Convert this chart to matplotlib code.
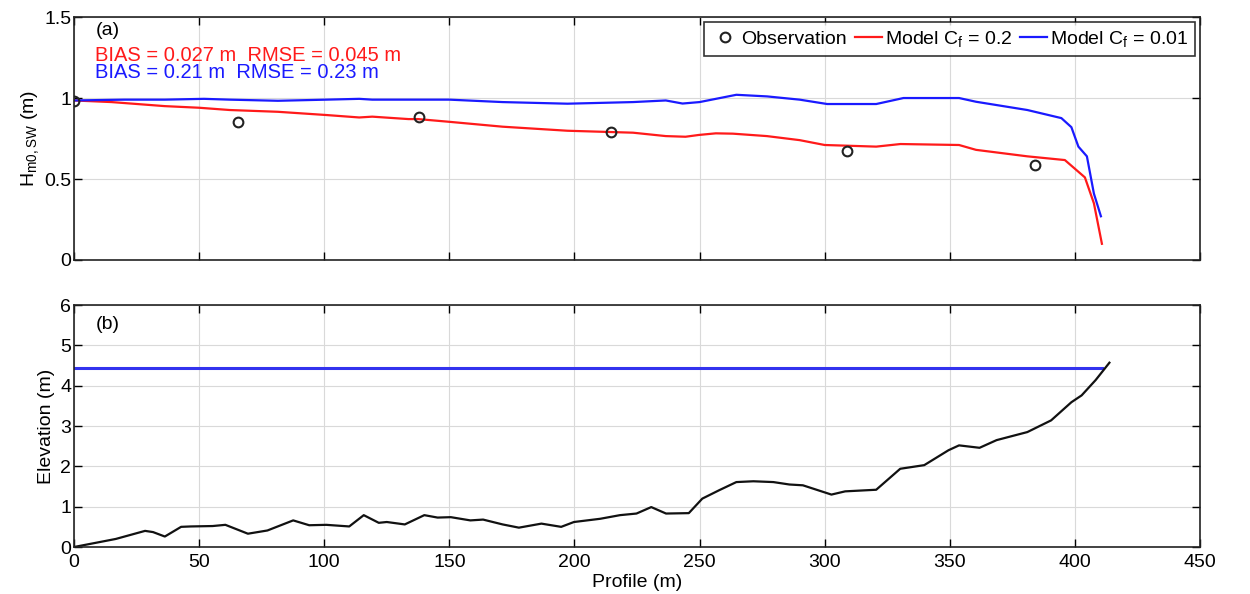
import numpy as np
import matplotlib
matplotlib.use('Agg')
import matplotlib.pyplot as plt

plt.rcParams['font.family'] = ['Liberation Sans', 'DejaVu Sans']
plt.rcParams['mathtext.fontset'] = 'custom'
plt.rcParams['mathtext.rm'] = 'Liberation Sans'
plt.rcParams['mathtext.it'] = 'Liberation Sans'

# (a) wave height
obs_x = [0, 65.6, 138, 214.5, 308.8, 384]
obs_h = [0.98, 0.85, 0.88, 0.79, 0.673, 0.586]

red_x = [0, 15, 36.3, 50, 62.2, 81.5, 100.9, 114, 119.2, 133.7, 137.5, 149.4, 171.3, 197.2, 223.4,
         236.5, 244.4, 249.7, 256.5, 263.3, 276.9, 290, 300, 320.6, 330.3, 353.7, 360.5, 381,
         396, 404, 407.6, 410.8]
red_h = [0.985, 0.975, 0.95, 0.94, 0.926, 0.915, 0.895, 0.88, 0.885, 0.87, 0.87, 0.854, 0.823, 0.798,
         0.786, 0.765, 0.761, 0.772, 0.782, 0.78, 0.765, 0.74, 0.71, 0.70, 0.716, 0.71, 0.68, 0.64,
         0.617, 0.51, 0.35, 0.10]

blue_x = [0, 20, 36.3, 52, 62.2, 81.5, 100.9, 114, 119.2, 133.7, 150, 171.3, 197.2, 223.4, 236.5,
          243.2, 250, 264.7, 277, 290, 301, 320.6, 331.5, 353.7, 360.5, 381, 394.6, 398.6,
          401.4, 404.8, 407.6, 410.4]
blue_h = [0.985, 0.99, 0.99, 0.995, 0.99, 0.983, 0.99, 0.995, 0.99, 0.99, 0.99, 0.975, 0.965, 0.975,
          0.985, 0.966, 0.975, 1.02, 1.01, 0.99, 0.963, 0.963, 1.0, 1.0, 0.977, 0.926, 0.876, 0.82,
          0.70, 0.64, 0.41, 0.27]

# (b) bed profile
bed_x = [0, 16.7, 28.4, 31.6, 36.3, 42.8, 46.7, 55.4, 60.5, 69.5, 77.3, 87.6, 94, 100.8, 110,
         115.8, 121.8, 125, 132.2, 140, 145.3, 150.6, 158.4, 163.5, 171.3, 177.8, 186.8, 194.7,
         199.8, 210.3, 218.2, 224.8, 230.7, 236.6, 245.7, 251.1, 257.9, 264.7, 271.5, 279.5,
         285.9, 291.3, 302.7, 308.2, 320.6, 330.2, 339.8, 349.5, 353.7, 361.9, 368.7, 381,
         390.5, 398.6, 402.7, 408.3, 413.8]
bed_z = [0, 0.2, 0.40, 0.37, 0.26, 0.50, 0.51, 0.52, 0.55, 0.33, 0.41, 0.66, 0.54, 0.55, 0.51,
         0.79, 0.60, 0.62, 0.56, 0.79, 0.73, 0.74, 0.66, 0.68, 0.56, 0.48, 0.58, 0.50,
         0.62, 0.70, 0.79, 0.83, 0.99, 0.83, 0.84, 1.20, 1.41, 1.61, 1.63, 1.61,
         1.55, 1.53, 1.30, 1.38, 1.42, 1.94, 2.03, 2.40, 2.52, 2.46, 2.65, 2.85,
         3.14, 3.59, 3.76, 4.14, 4.57]
wl_x = [0, 410.8]
wl_z = [4.44, 4.44]

FS = 14

fig = plt.figure(figsize=(12.5, 5.94), dpi=100)
ax1 = fig.add_axes([0.0592, 0.5623, 0.9008, 0.409])
ax2 = fig.add_axes([0.0592, 0.0791, 0.9008, 0.4074])

for ax in (ax1, ax2):
    ax.set_xlim(0, 450)
    ax.set_xticks(np.arange(0, 451, 50))
    ax.grid(True, color='#d9d9d9', linewidth=0.8)
    ax.set_axisbelow(True)
    ax.tick_params(direction='in', top=True, right=True, labelsize=FS, length=6, width=1)
    ax.tick_params(axis='y', pad=2)
    ax.tick_params(axis='x', pad=5)
    for s in ax.spines.values():
        s.set_linewidth(1.2)
        s.set_color('#222222')

ax1.plot(red_x, red_h, color='#ff1a1a', lw=1.6, label=r'Model C$_f$ = 0.2')
ax1.plot(blue_x, blue_h, color='#1a1aff', lw=1.6, label=r'Model C$_f$ = 0.01')
ax1.plot(obs_x, obs_h, 'o', mfc='none', mec='#222222', mew=1.5, ms=7, label='Observation')
ax1.set_ylim(0, 1.5)
ax1.set_yticks([0, 0.5, 1, 1.5])
ax1.set_yticklabels(['0', '0.5', '1', '1.5'])
ax1.set_xticklabels([])
ax1.set_ylabel(r'H$_{\mathrm{m0,SW}}$ (m)', fontsize=FS, labelpad=2)
h, l = ax1.get_legend_handles_labels()
leg = ax1.legend([h[2], h[0], h[1]], [l[2], l[0], l[1]], ncol=3, loc='upper right',
                 fontsize=FS, fancybox=False, edgecolor='black', handlelength=1.4,
                 handletextpad=0.15, columnspacing=0.4, borderaxespad=0.25, borderpad=0.35)
leg.get_frame().set_linewidth(1.2)
ax1.text(0.019, 0.945, '(a)', transform=ax1.transAxes, fontsize=FS, va='center')
ax1.text(0.019, 0.84, 'BIAS = 0.027 m  RMSE = 0.045 m', transform=ax1.transAxes,
         fontsize=14.5, color='#ff1a1a', va='center')
ax1.text(0.019, 0.77, 'BIAS = 0.21 m  RMSE = 0.23 m', transform=ax1.transAxes,
         fontsize=14.5, color='#1a1aff', va='center')

ax2.plot(wl_x, wl_z, color='#3333ee', lw=2.2)
ax2.plot(bed_x, bed_z, color='#111111', lw=1.6)
ax2.set_ylim(0, 6)
ax2.set_yticks(range(0, 7))
ax2.set_ylabel('Elevation (m)', fontsize=FS, labelpad=4)
ax2.set_xlabel('Profile (m)', fontsize=FS, labelpad=2)
ax2.text(0.019, 0.92, '(b)', transform=ax2.transAxes, fontsize=FS, va='center')

fig.savefig('out.png', dpi=100)
